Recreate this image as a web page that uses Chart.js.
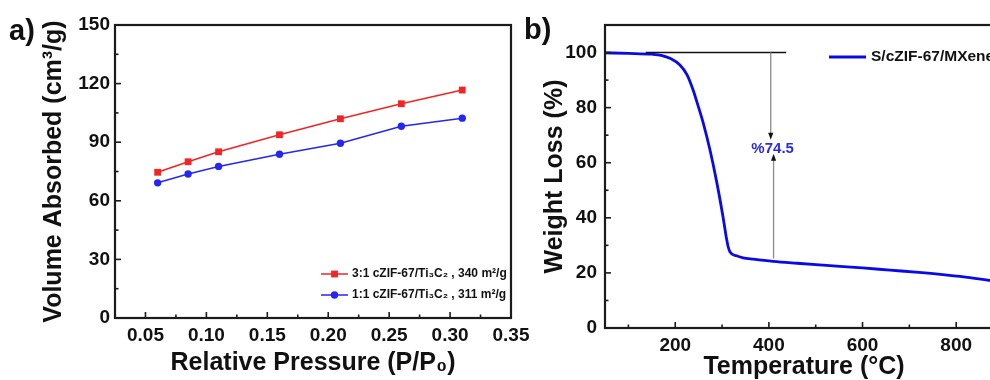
<!DOCTYPE html>
<html><head><meta charset="utf-8">
<script src="https://cdn.jsdelivr.net/npm/chart.js@4.4.1/dist/chart.umd.min.js"></script>
<style>
html,body{margin:0;padding:0;background:#fff;overflow:hidden;width:990px;height:380px;}
#wrapA{position:absolute;left:0;top:0;width:540px;height:380px;}
#wrapB{position:absolute;left:500px;top:0;width:540px;height:380px;}
.panel{position:absolute;font:bold 29px "Liberation Sans",Arial,sans-serif;color:#111;line-height:1;}
</style></head><body>
<div id="wrapA"><canvas id="cA" width="540" height="380"></canvas></div>
<div id="wrapB"><canvas id="cB" width="540" height="380"></canvas></div>
<div class="panel" style="left:9px;top:16px">a)</div>
<div class="panel" style="left:524px;top:15px">b)</div>
<script>
// ---------- Panel a) data ----------
const pressure = [0.06, 0.085, 0.11, 0.16, 0.21, 0.26, 0.31];
const vol31 = [74.6, 80.0, 85.1, 93.8, 102.0, 109.7, 116.7];
const vol11 = [69.2, 73.7, 77.6, 83.8, 89.5, 98.2, 102.3];
const label31 = '3:1 cZIF-67/Ti\u2083C\u2082 , 340 m\u00B2/g';
const label11 = '1:1 cZIF-67/Ti\u2083C\u2082 , 311 m\u00B2/g';
const pressureTicks = [0.05, 0.10, 0.15, 0.20, 0.25, 0.30, 0.35];
const pressureTickLabels = ['0.05', '0.10', '0.15', '0.20', '0.25', '0.30', '0.35'];
const pressureMinor = [0.075, 0.125, 0.175, 0.225, 0.275, 0.325];
const volumeTicks = [0, 30, 60, 90, 120, 150];
const volumeTickLabels = ['0', '30', '60', '90', '120', '150'];
const volumeMinor = [15, 45, 75, 105, 135];

// ---------- Panel b) data ----------
const temperature = [50, 100, 150, 170, 190, 210, 225, 238, 250, 260, 274, 288, 302, 310, 313, 317, 331, 345, 367, 409, 460, 516, 600, 659, 720, 766, 820, 872, 900];
const weight = [99.9, 99.7, 99.4, 99.0, 97.8, 95.5, 92.0, 86.5, 80.0, 74.3, 64.8, 53.5, 40.4, 32.0, 29.5, 27.6, 26.2, 25.5, 25.0, 24.2, 23.5, 22.8, 21.8, 21.0, 20.2, 19.5, 18.5, 17.3, 16.6];
const labelTGA = 'S/cZIF-67/MXene';
const tempTicks = [200, 400, 600, 800];
const tempTickLabels = ['200', '400', '600', '800'];
const tempMinor = [100, 300, 500, 700, 900];
const weightTicks = [0, 20, 40, 60, 80, 100];
const weightTickLabels = ['0', '20', '40', '60', '80', '100'];
const weightMinor = [10, 30, 50, 70, 90];
// annotation values (temperature, weight)
const refLineT = [137, 437];
const refLineW = 100;
const arrowDown = [404, 100, 68.3];   // T, from, to
const arrowUp = [410, 25.2, 63.3];    // T, from, to
const lossText = '%74.5';
const lossTextAt = [408, 65.1];

const FONT = '"Liberation Sans", Arial, sans-serif';
Chart.defaults.font.family = FONT;
Chart.defaults.color = '#111';

const frame = {
  id: 'frame',
  afterDatasetsDraw(chart, args, o) {
    const {ctx, chartArea: a, scales: {x, y}} = chart;
    ctx.save();
    ctx.strokeStyle = '#1b1b1b';
    ctx.lineWidth = 1.6;
    const tick = (vals, len, horiz) => vals.forEach(v => {
      ctx.beginPath();
      if (horiz) {
        const px = x.getPixelForValue(v);
        if (px > a.right + 1) return;
        ctx.moveTo(px, a.bottom); ctx.lineTo(px, a.bottom - len);
      } else {
        const py = y.getPixelForValue(v);
        ctx.moveTo(a.left, py); ctx.lineTo(a.left + len, py);
      }
      ctx.stroke();
    });
    tick(o.xMajor, 6, true); tick(o.xMinor, 3.5, true);
    tick(o.yMajor, 6, false); tick(o.yMinor, 3.5, false);
    ctx.lineWidth = 2.2;
    ctx.strokeRect(a.left, a.top, a.right - a.left, a.bottom - a.top);
    ctx.restore();
  }
};

const legendBox = {
  id: 'legendBox',
  afterDraw(chart, args, o) {
    const ctx = chart.ctx;
    ctx.save();
    chart.data.datasets.forEach((ds, i) => {
      const yy = o.y + i * o.gap;
      ctx.strokeStyle = ds.borderColor;
      ctx.lineWidth = o.lineWidth || ds.borderWidth;
      ctx.beginPath(); ctx.moveTo(o.x, yy); ctx.lineTo(o.x + o.len, yy); ctx.stroke();
      ctx.fillStyle = ds.backgroundColor;
      const cx = o.x + o.len / 2;
      if (ds.pointRadius > 0) {
        if (ds.pointStyle === 'rect') {
          const s = ds.pointRadius * Math.SQRT1_2;
          ctx.fillRect(cx - s, yy - s, 2 * s, 2 * s);
        } else {
          ctx.beginPath(); ctx.arc(cx, yy, ds.pointRadius, 0, Math.PI * 2); ctx.fill();
        }
      }
      ctx.fillStyle = '#111';
      ctx.font = 'bold ' + o.size + 'px ' + FONT;
      ctx.textBaseline = 'middle';
      ctx.textAlign = 'left';
      ctx.fillText(ds.label, o.x + o.len + o.textGap, yy);
    });
    ctx.restore();
  }
};

const annot = {
  id: 'annot',
  afterDatasetsDraw(chart) {
    const {ctx, scales: {x, y}} = chart;
    ctx.save();
    ctx.strokeStyle = '#111'; ctx.lineWidth = 1.6;
    ctx.beginPath();
    ctx.moveTo(x.getPixelForValue(refLineT[0]), y.getPixelForValue(refLineW));
    ctx.lineTo(x.getPixelForValue(refLineT[1]), y.getPixelForValue(refLineW));
    ctx.stroke();
    const arrow = (t, w1, w2) => {
      const px = x.getPixelForValue(t), y1 = y.getPixelForValue(w1), y2 = y.getPixelForValue(w2);
      const dir = y2 > y1 ? 1 : -1;
      ctx.strokeStyle = '#8a8a8a'; ctx.lineWidth = 1.3;
      ctx.beginPath(); ctx.moveTo(px, y1); ctx.lineTo(px, y2 - dir * 5); ctx.stroke();
      ctx.fillStyle = '#111';
      ctx.beginPath(); ctx.moveTo(px, y2); ctx.lineTo(px - 2.6, y2 - dir * 7); ctx.lineTo(px + 2.6, y2 - dir * 7); ctx.closePath(); ctx.fill();
    };
    arrow(arrowDown[0], arrowDown[1], arrowDown[2]);
    arrow(arrowUp[0], arrowUp[1], arrowUp[2]);
    ctx.fillStyle = '#2b2be6';
    ctx.font = 'bold 15px ' + FONT;
    ctx.textAlign = 'center'; ctx.textBaseline = 'middle';
    ctx.fillText(lossText, x.getPixelForValue(lossTextAt[0]), y.getPixelForValue(lossTextAt[1]));
    ctx.restore();
  }
};

const tickFont = {size: 19, weight: 'bold'};
const titleFont = {size: 25, weight: 'bold', lineHeight: 1};

new Chart(document.getElementById('cA'), {
  type: 'line',
  data: {datasets: [
    {label: label31, data: pressure.map((p, i) => ({x: p, y: vol31[i]})), borderColor: '#f22424', backgroundColor: '#f22424',
     borderWidth: 1.5, pointStyle: 'rect', pointRadius: 4.8, pointBorderWidth: 0, tension: 0},
    {label: label11, data: pressure.map((p, i) => ({x: p, y: vol11[i]})), borderColor: '#2626f2', backgroundColor: '#2626f2',
     borderWidth: 1.5, pointStyle: 'circle', pointRadius: 3.7, pointBorderWidth: 0, tension: 0}
  ]},
  options: {
    responsive: false, animation: false, events: [],
    layout: {padding: {left: 0, top: 25, right: 29, bottom: 0}},
    plugins: {
      legend: {display: false}, tooltip: {enabled: false},
      frame: {xMajor: pressureTicks, xMinor: pressureMinor, yMajor: volumeTicks, yMinor: volumeMinor},
      legendBox: {x: 321, y: 274, gap: 21, len: 27, textGap: 4, size: 12}
    },
    scales: {
      x: {type: 'linear', min: 0.025, max: 0.35,
          grid: {display: false, drawTicks: false}, border: {display: false},
          afterBuildTicks: s => { s.ticks = pressureTicks.map(v => ({value: v})); },
          ticks: {padding: 6, font: tickFont, autoSkip: false, maxRotation: 0, callback: (v, i) => pressureTickLabels[i]},
          afterFit: s => { s.height = 62; },
          title: {display: true, text: 'Relative Pressure (P/P\u2080)', font: titleFont, padding: {top: 0, bottom: 4}}},
      y: {type: 'linear', min: 0, max: 150,
          grid: {display: false, drawTicks: false}, border: {display: false},
          afterBuildTicks: s => { s.ticks = volumeTicks.map(v => ({value: v})); },
          ticks: {padding: 5, font: tickFont, callback: (v, i) => volumeTickLabels[i]},
          afterFit: s => { s.width = 115; },
          title: {display: true, text: 'Volume Absorbed (cm\u00B3/g)', font: titleFont, padding: {top: 42, bottom: 0}}}
    }
  },
  plugins: [frame, legendBox]
});

new Chart(document.getElementById('cB'), {
  type: 'line',
  data: {datasets: [
    {label: labelTGA, data: temperature.map((t, i) => ({x: t, y: weight[i]})), borderColor: '#0a0ae8', backgroundColor: '#0a0ae8',
     borderWidth: 2.8, pointRadius: 0, cubicInterpolationMode: 'monotone'}
  ]},
  options: {
    responsive: false, animation: false, events: [],
    layout: {padding: {left: 0, top: 25, right: 37, bottom: 0}},
    plugins: {
      legend: {display: false}, tooltip: {enabled: false},
      frame: {xMajor: tempTicks, xMinor: tempMinor, yMajor: weightTicks, yMinor: weightMinor},
      legendBox: {x: 329, y: 57, gap: 21, len: 37, textGap: 5, size: 15.5, lineWidth: 3}
    },
    scales: {
      x: {type: 'linear', min: 50, max: 900,
          grid: {display: false, drawTicks: false}, border: {display: false},
          afterBuildTicks: s => { s.ticks = tempTicks.map(v => ({value: v})); },
          ticks: {padding: 6, font: tickFont, autoSkip: false, maxRotation: 0, callback: (v, i) => tempTickLabels[i]},
          afterFit: s => { s.height = 52; },
          title: {display: true, text: 'Temperature (\u00B0C)', font: titleFont, padding: {top: 0, bottom: 0}}},
      y: {type: 'linear', min: 0, max: 110,
          grid: {display: false, drawTicks: false}, border: {display: false},
          afterBuildTicks: s => { s.ticks = weightTicks.map(v => ({value: v})); },
          ticks: {padding: 8, font: tickFont, callback: (v, i) => weightTickLabels[i]},
          afterFit: s => { s.width = 105; },
          title: {display: true, text: 'Weight Loss (%)', font: titleFont, padding: {top: 43, bottom: 0}}}
    }
  },
  plugins: [frame, legendBox, annot]
});
</script>
</body></html>
